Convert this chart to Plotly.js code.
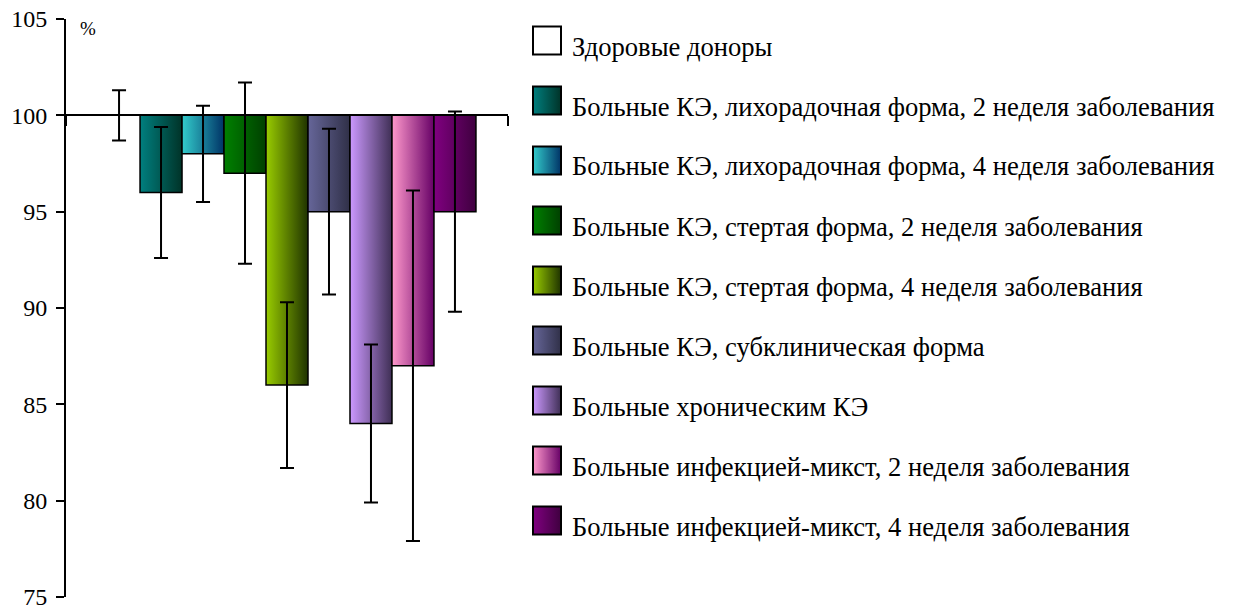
<!DOCTYPE html>
<html>
<head>
<meta charset="utf-8">
<script src="https://cdn.plot.ly/plotly-3.0.1.min.js"></script>
<style>html,body{margin:0;padding:0;background:#fff;}#chart{width:1234px;height:610px;}</style>
</head>
<body>
<div id="chart"></div>
<script>
// ---- data ----
var seriesNames = [
  "Здоровые доноры",
  "Больные КЭ, лихорадочная форма, 2 неделя заболевания",
  "Больные КЭ, лихорадочная форма, 4 неделя заболевания",
  "Больные КЭ, стертая форма, 2 неделя заболевания",
  "Больные КЭ, стертая форма, 4 неделя заболевания",
  "Больные КЭ, субклиническая форма",
  "Больные хроническим КЭ",
  "Больные инфекцией-микст, 2 неделя заболевания",
  "Больные инфекцией-микст, 4 неделя заболевания"
];
var values = [100, 96, 98, 97, 86, 95, 84, 87, 95];
var errors = [1.3, 3.4, 2.5, 4.7, 4.3, 4.3, 4.1, 9.1, 5.2];
var baseLevel = 100;
var yTicks = [75, 80, 85, 90, 95, 100, 105];
var colorsLight = ["#FFFFFF", "#007F7F", "#33CCCC", "#008000", "#99CC00", "#666699", "#CC99FF", "#FF99CC", "#800080"];
var colorsDark  = ["#FFFFFF", "#003328", "#003366", "#004000", "#1F3300", "#303048", "#3F2F55", "#660066", "#3F003F"];

// ---- geometry helpers (plot area in px) ----
var PX0 = 66, PW = 442, PY1 = 597, PH = 578;
function px(x) { return (x - PX0) / PW; }
function py(y) { return (PY1 - y) / PH; }

var font = "Liberation Serif";

var traces = seriesNames.map(function (n, i) {
  return {
    type: "bar",
    name: n,
    x: ["g"],
    y: [values[i] - baseLevel],
    base: [baseLevel],
    marker: { color: colorsLight[i], line: { color: "#000", width: 1.5 } },
    error_y: { type: "data", array: [errors[i]], visible: true, color: "#000", thickness: 2, width: 7 },
    showlegend: false,
    hoverinfo: "skip"
  };
});

var shapes = [];
var annotations = [];
seriesNames.forEach(function (n, i) {
  var cy = 40.5 + 60 * i;
  shapes.push({
    type: "rect", xref: "paper", yref: "paper", layer: "above",
    x0: px(533), x1: px(561), y0: py(cy + 14), y1: py(cy - 14),
    fillcolor: colorsLight[i], line: { color: "#000", width: 2 }
  });
  annotations.push({
    xref: "paper", yref: "paper", x: px(570), y: py(cy + 6),
    xanchor: "left", yanchor: "middle", showarrow: false,
    text: n, font: { family: font, size: 26.6, color: "#000" }
  });
});
annotations.push({
  xref: "paper", yref: "paper", x: px(78), y: py(28),
  xanchor: "left", yanchor: "middle", showarrow: false,
  text: "%", font: { family: font, size: 19, color: "#000" }
});

var layout = {
  width: 1234, height: 610,
  font: { family: font, color: "#000" },
  margin: { l: 66, r: 1234 - 508, t: 19, b: 610 - 597, pad: 0 },
  paper_bgcolor: "#fff", plot_bgcolor: "#fff",
  barmode: "group", bargap: 0.145, bargroupgap: 0,
  showlegend: false,
  xaxis: {
    type: "category", range: [-0.5, 0.5],
    anchor: "free", position: (baseLevel - 75) / 30,
    showline: true, linecolor: "#000", linewidth: 2,
    ticks: "outside", tickson: "boundaries", ticklen: 10, tickwidth: 2, tickcolor: "#000",
    showticklabels: false, showgrid: false, zeroline: false
  },
  yaxis: {
    range: [74.999, 105], tickvals: yTicks, ticktext: yTicks.map(String),
    showline: true, linecolor: "#000", linewidth: 2,
    ticks: "outside", ticklen: 8, tickwidth: 2, tickcolor: "#000",
    ticklabelstandoff: 4, ticklabeloverflow: "allow",
    tickfont: { family: font, size: 24, color: "#000" },
    showgrid: false, zeroline: false
  },
  shapes: shapes,
  annotations: annotations
};

function norm(c) {
  var m = String(c).match(/\d+(\.\d+)?/g);
  if (!m) return "";
  return m.slice(0, 3).map(function (v) { return Math.round(+v); }).join(",");
}
function hexNorm(h) {
  h = h.replace("#", "");
  return [0, 2, 4].map(function (k) { return parseInt(h.substr(k, 2), 16); }).join(",");
}

Plotly.newPlot("chart", traces, layout, { staticPlot: true }).then(function (gd) {
  var svg = gd.querySelector("svg.main-svg");
  var ns = "http://www.w3.org/2000/svg";
  var defs = svg.querySelector("defs") || svg.insertBefore(document.createElementNS(ns, "defs"), svg.firstChild);
  var map = {};
  colorsLight.forEach(function (c, i) {
    if (i === 0) return;
    var g = document.createElementNS(ns, "linearGradient");
    g.setAttribute("id", "grad" + i);
    g.setAttribute("x1", "0"); g.setAttribute("y1", "0");
    g.setAttribute("x2", "1"); g.setAttribute("y2", "0");
    [[0, colorsLight[i]], [1, colorsDark[i]]].forEach(function (s) {
      var st = document.createElementNS(ns, "stop");
      st.setAttribute("offset", s[0]);
      st.setAttribute("stop-color", s[1]);
      g.appendChild(st);
    });
    defs.appendChild(g);
    map[hexNorm(c)] = "url(#grad" + i + ")";
  });
  gd.querySelectorAll("path").forEach(function (p) {
    var f = norm(p.style.fill);
    if (map[f]) p.style.fill = map[f];
  });
});
</script>
</body>
</html>
